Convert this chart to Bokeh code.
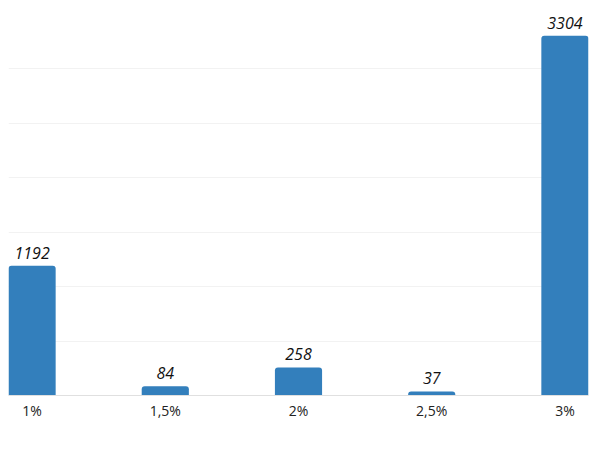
from bokeh.plotting import figure
from bokeh.models import ColumnDataSource, FixedTicker, Range1d
from bokeh.core.properties import value
from bokeh.embed import file_html
from bokeh.resources import INLINE

# categories and values
categories = ["1%", "1,5%", "2%", "2,5%", "3%"]
counts = [1192, 84, 258, 37, 3304]

xs = list(range(len(categories)))
source = ColumnDataSource(data=dict(x=xs, count=counts, label=[str(c) for c in counts]))

p = figure(width=592, height=440, output_backend="svg", toolbar_location=None,
           x_range=Range1d(-0.177, 4.177), y_range=Range1d(0, 3500))
p.min_border_left = 8
p.min_border_right = 4
p.min_border_top = 14
p.min_border_bottom = 45
p.outline_line_color = None
p.background_fill_color = "white"

p.vbar(x="x", top="count", width=0.354, source=source, color="#337fbc",
       line_color=None, border_radius=[3, 3, 0, 0])

p.text(x="x", y="count", text="label", source=source, text_align="center",
       text_baseline="bottom", y_offset=-7, text_font=value("Open Sans"),
       text_font_style="italic", text_font_size="16px", text_color="#111111")

p.xaxis.ticker = FixedTicker(ticks=xs)
p.xaxis.major_label_overrides = {i: c for i, c in enumerate(categories)}
p.xaxis.major_label_text_font = "Open Sans"
p.xaxis.major_label_text_font_size = "14px"
p.xaxis.major_label_text_color = "#222222"
p.xaxis.axis_line_color = "#e0e0e0"
p.xaxis.major_tick_line_color = None
p.xaxis.major_tick_out = 0
p.xaxis.major_tick_in = 0
p.xaxis.minor_tick_line_color = None
p.xaxis.major_label_standoff = 5

p.yaxis.visible = False
p.xgrid.grid_line_color = None
p.ygrid.ticker = FixedTicker(ticks=list(range(0, 3501, 500)))
p.ygrid.grid_line_color = "#f2f2f2"

open("out.html", "w").write(file_html(p, INLINE))
